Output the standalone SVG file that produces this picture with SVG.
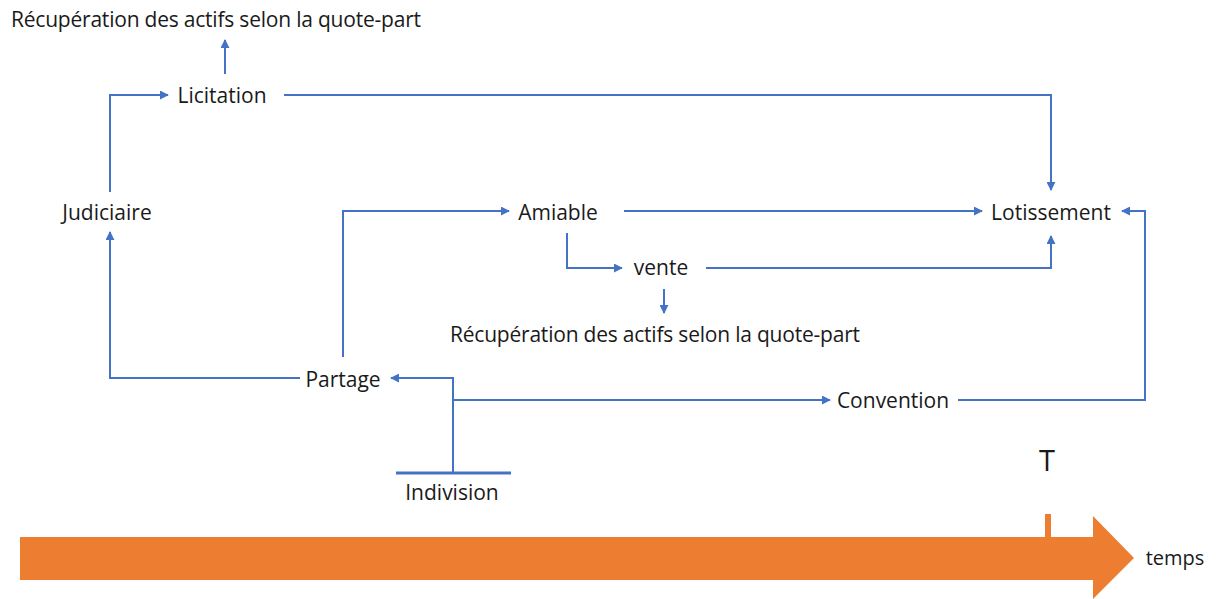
<svg xmlns="http://www.w3.org/2000/svg" width="1221" height="599" viewBox="0 0 1221 599">
  <style>
    .lbl { font-family: "Open Sans", "Liberation Sans", sans-serif; font-size: 21px; fill: #1a1a1a; text-anchor: middle; }
    .conn { fill: none; stroke: #4472C4; stroke-width: 2; }
    .arr { marker-end: url(#head); }
  </style>
  <defs>
    <marker id="head" viewBox="0 0 10 10" refX="9" refY="5" markerWidth="4.5" markerHeight="4.5" orient="auto" markerUnits="strokeWidth">
      <path d="M0,0 L10,5 L0,10 z" fill="#4472C4"/>
    </marker>
  </defs>

  <rect width="1221" height="599" fill="#ffffff"/>

  <!-- time axis -->
  <g id="timeline">
    <path d="M20,537 L1093,537 L1093,516 L1134,558 L1093,599 L1093,580 L20,580 z" fill="#ED7D31"/>
    <rect x="1045" y="514" width="6" height="24" fill="#ED7D31"/>
    <text x="1047" y="471" class="lbl" style="font-size:29px">T</text>
    <text x="1175" y="565" class="lbl" style="font-size:20px">temps</text>
  </g>

  <g id="connectors">
    <path class="conn arr" d="M225,74 V40"/>
    <path class="conn arr" d="M110,192 V95 H168"/>
    <path class="conn arr" d="M284,95 H1051 V190"/>
    <path class="conn arr" d="M300,378 H110 V232"/>
    <path class="conn arr" d="M343,357 V211 H509"/>
    <path class="conn arr" d="M624,211 H982"/>
    <path class="conn arr" d="M567,233 V268 H622"/>
    <path class="conn arr" d="M706,268 H1051 V236"/>
    <path class="conn arr" d="M664,289 V313"/>
    <path class="conn" d="M396,473 H511" style="stroke-width:3"/>
    <path class="conn arr" d="M453,473 V378 H391"/>
    <path class="conn arr" d="M453,400 H830"/>
    <path class="conn arr" d="M958,400 H1145 V211 H1122"/>
  </g>

  <g id="recup-top"><text x="216" y="27" class="lbl" textLength="410">Récupération des actifs selon la quote-part</text></g>
  <g id="licitation"><text x="222" y="103" class="lbl">Licitation</text></g>
  <g id="judiciaire"><text x="107" y="220" class="lbl">Judiciaire</text></g>
  <g id="amiable"><text x="558" y="220" class="lbl">Amiable</text></g>
  <g id="lotissement"><text x="1051" y="220" class="lbl">Lotissement</text></g>
  <g id="vente"><text x="661" y="275" class="lbl">vente</text></g>
  <g id="recup-mid"><text x="655" y="342" class="lbl" textLength="410">Récupération des actifs selon la quote-part</text></g>
  <g id="partage"><text x="343" y="387" class="lbl">Partage</text></g>
  <g id="convention"><text x="893" y="408" class="lbl">Convention</text></g>
  <g id="indivision"><text x="452" y="500" class="lbl">Indivision</text></g>
</svg>
